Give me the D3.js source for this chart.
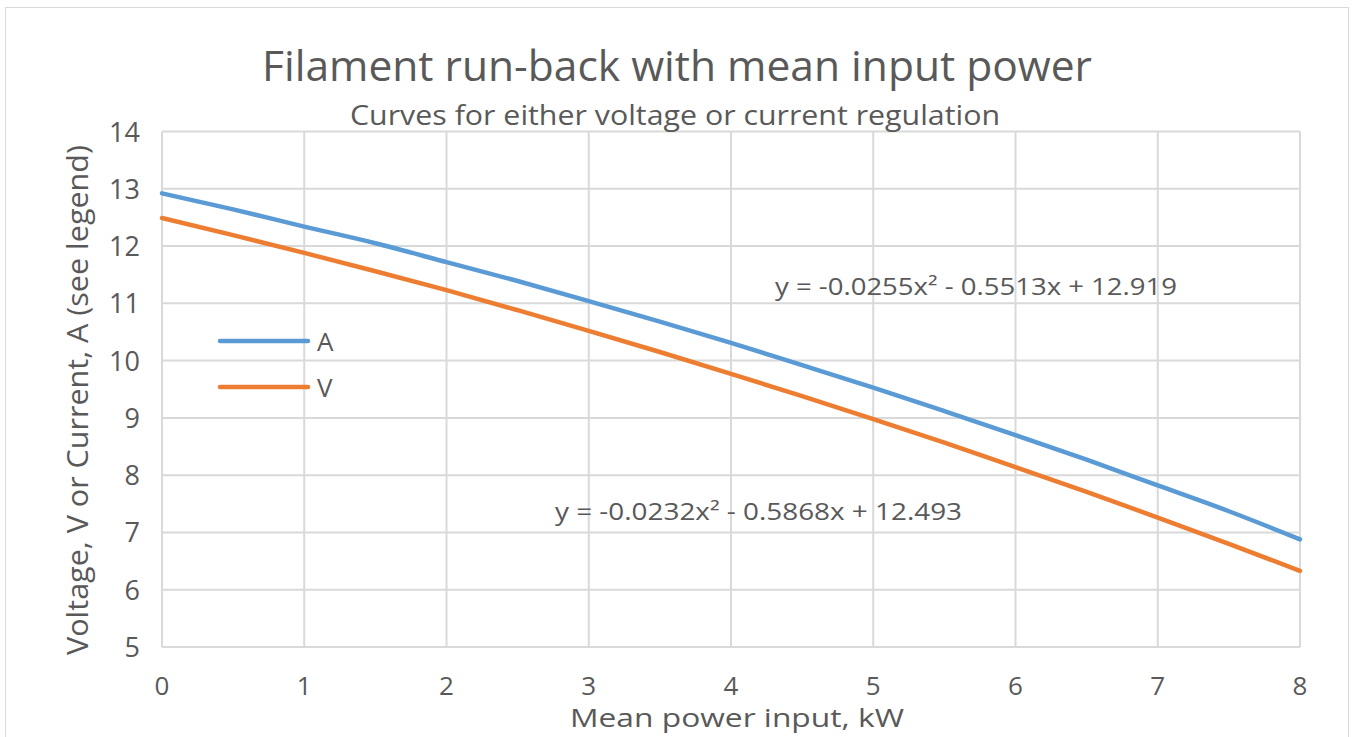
<!DOCTYPE html>
<html>
<head>
<meta charset="utf-8">
<script src="https://cdn.jsdelivr.net/npm/d3@7"></script>
<style>
  body { margin: 0; background: #fff; }
  text { font-family: "Open Sans", sans-serif; fill: #595959; }
</style>
</head>
<body>
<script>
// values, every 0.5 kW
var power = [0, 0.5, 1, 1.5, 2, 2.5, 3, 3.5, 4, 4.5, 5, 5.5, 6, 6.5, 7, 7.5, 8];
var amps  = [12.92, 12.64, 12.34, 12.05, 11.72, 11.39, 11.04, 10.68, 10.31, 9.92, 9.53, 9.12, 8.70, 8.27, 7.82, 7.37, 6.88];
var volts = [12.49, 12.19, 11.88, 11.56, 11.23, 10.88, 10.52, 10.15, 9.77, 9.38, 8.98, 8.57, 8.14, 7.71, 7.26, 6.80, 6.33];
var xTicks = [0, 1, 2, 3, 4, 5, 6, 7, 8];
var yTicks = [5, 6, 7, 8, 9, 10, 11, 12, 13, 14];
var seriesNames = ["A", "V"];
var seriesColors = ["#5b9bd5", "#ed7d31"];
var trendA = "y = -0.0255x² - 0.5513x + 12.919";
var trendV = "y = -0.0232x² - 0.5868x + 12.493";

var W = 1357, H = 737;
var svg = d3.select("body").append("svg")
    .attr("width", W)
    .attr("height", H);

svg.append("rect")
    .attr("x", 5.5).attr("y", 7.5)
    .attr("width", 1343).attr("height", 740)
    .attr("fill", "#fff")
    .attr("stroke", "#d9d9d9");

var x = d3.scaleLinear().domain([0, 8]).range([162, 1300]);
var y = d3.scaleLinear().domain([5, 14]).range([647, 131.5]);

// grid
svg.append("g").selectAll("line.h")
    .data(yTicks).enter().append("line")
    .attr("x1", x(0)).attr("x2", x(8))
    .attr("y1", function(d){return y(d)}).attr("y2", function(d){return y(d)})
    .attr("stroke", "#d9d9d9").attr("stroke-width", 2);
svg.append("g").selectAll("line.v")
    .data(xTicks).enter().append("line")
    .attr("y1", y(5)).attr("y2", y(14))
    .attr("x1", function(d){return x(d)}).attr("x2", function(d){return x(d)})
    .attr("stroke", "#d9d9d9").attr("stroke-width", 2);

// tick labels
svg.append("g").selectAll("text")
    .data(yTicks).enter().append("text")
    .attr("x", 140).attr("y", function(d){return y(d) + 10})
    .attr("text-anchor", "end")
    .attr("font-size", 27)
    .text(function(d){return d});
svg.append("g").selectAll("text")
    .data(xTicks).enter().append("text")
    .attr("x", function(d){return x(d)}).attr("y", 695)
    .attr("text-anchor", "middle")
    .attr("font-size", 26)
    .text(function(d){return d});

// lines
var line = d3.line()
    .x(function(d){return x(d[0])})
    .y(function(d){return y(d[1])})
    .curve(d3.curveMonotoneX);
var series = [amps, volts];
series.forEach(function(vals, i){
    svg.append("path")
        .datum(power.map(function(p, k){return [p, vals[k]]}))
        .attr("d", line)
        .attr("fill", "none")
        .attr("stroke", seriesColors[i])
        .attr("stroke-width", 4.5)
        .attr("stroke-linecap", "round");
});

// titles
svg.append("text")
    .attr("x", 677).attr("y", 81)
    .attr("text-anchor", "middle")
    .attr("font-size", 42)
    .attr("textLength", 830).attr("lengthAdjust", "spacingAndGlyphs")
    .text("Filament run-back with mean input power");
svg.append("text")
    .attr("x", 675).attr("y", 125)
    .attr("text-anchor", "middle")
    .attr("font-size", 27)
    .attr("textLength", 650).attr("lengthAdjust", "spacingAndGlyphs")
    .text("Curves for either voltage or current regulation");
svg.append("text")
    .attr("x", 737).attr("y", 727)
    .attr("text-anchor", "middle")
    .attr("font-size", 25)
    .attr("textLength", 334).attr("lengthAdjust", "spacingAndGlyphs")
    .text("Mean power input, kW");
svg.append("text")
    .attr("transform", "translate(88,400) rotate(-90)")
    .attr("text-anchor", "middle")
    .attr("font-size", 30)
    .attr("textLength", 510).attr("lengthAdjust", "spacingAndGlyphs")
    .text("Voltage, V or Current, A (see legend)");

// trendline equations
svg.append("text")
    .attr("x", 775).attr("y", 295)
    .attr("font-size", 24)
    .attr("textLength", 402).attr("lengthAdjust", "spacingAndGlyphs")
    .text(trendA);
svg.append("text")
    .attr("x", 555).attr("y", 520)
    .attr("font-size", 24)
    .attr("textLength", 407).attr("lengthAdjust", "spacingAndGlyphs")
    .text(trendV);

// legend
var legend = svg.append("g").selectAll("g")
    .data(seriesNames).enter().append("g")
    .attr("transform", function(d, i){return "translate(220," + (341 + i * 46) + ")"});
legend.append("line")
    .attr("x1", 0).attr("x2", 88)
    .attr("stroke", function(d, i){return seriesColors[i]})
    .attr("stroke-width", 4.5)
    .attr("stroke-linecap", "round");
legend.append("text")
    .attr("x", 97).attr("y", 10)
    .attr("font-size", 26)
    .text(function(d){return d});
</script>
</body>
</html>
